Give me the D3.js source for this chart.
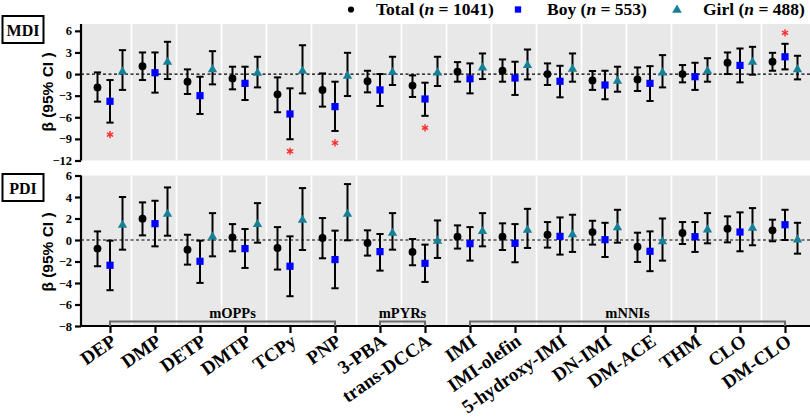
<!DOCTYPE html>
<html><head><meta charset="utf-8">
<script src="https://cdn.jsdelivr.net/npm/d3@7"></script>
<style>
html,body{margin:0;padding:0;background:#fff;}
svg{display:block;}
</style></head>
<body>
<svg id="chart" width="810" height="417"></svg>
<script>
const categories = ["DEP","DMP","DETP","DMTP","TCPy","PNP","3-PBA","trans-DCCA","IMI","IMI-olefin","5-hydroxy-IMI","DN-IMI","DM-ACE","THM","CLO","DM-CLO"];
const seriesNames = ["Total","Boy","Girl"];
const seriesLabels = ["Total (", "Boy (", "Girl ("];
const seriesN = ["1041","553","488"];

// MDI
const mdiTotal   = [-1.85,1.1,-1.06,-0.6,-2.81,-2.2,-1.0,-1.6,0.32,0.46,0,-0.88,-0.74,0,1.57,1.71];
const mdiTotalLo = [-3.83,-0.83,-2.77,-2.12,-5.3,-4.52,-2.54,-3.18,-1.06,-1.06,-1.52,-2.2,-2.35,-1.15,0.0,0.46];
const mdiTotalHi = [0.23,3.0,0.65,1.02,-0.46,0.09,0.46,-0.18,1.66,2.03,1.48,0.42,0.92,1.25,3.0,2.95];
const mdiBoy     = [-3.78,0.18,-3.0,-1.29,-5.54,-4.52,-2.2,-3.46,-0.65,-0.55,-1.0,-1.52,-1.29,-0.37,1.2,2.4];
const mdiBoyLo   = [-6.74,-2.58,-5.54,-3.6,-9.05,-7.9,-4.43,-5.8,-2.68,-2.9,-3.23,-3.5,-3.74,-2.2,-1.15,0.65];
const mdiBoyHi   = [-0.83,3.0,-0.37,1.02,-1.98,-1.06,0,-1.2,1.48,1.71,1.15,0.46,1.1,1.57,3.55,4.2];
const mdiGirl    = [0.46,1.8,0.78,0.28,0.55,-0.14,0.37,0.32,1.02,1.34,0.83,-0.83,0.32,0.55,1.8,0.78];
const mdiGirlLo  = [-2.2,-0.69,-1.43,-1.85,-2.68,-3.05,-1.52,-1.66,-0.69,-0.74,-1.06,-2.45,-1.85,-1.06,-0.09,-0.74];
const mdiGirlHi  = [3.32,4.48,3.18,2.4,4.0,2.95,2.4,2.4,2.86,3.41,2.86,1.02,2.63,2.2,3.78,2.54];
const mdiBoySig  = [1,0,0,0,1,1,0,1,0,0,0,0,0,0,0,1];

// PDI
const pdiTotal   = [-0.8,1.98,-0.9,0.25,-0.74,0.19,-0.28,-1.11,0.31,0.31,0.49,0.74,-0.62,0.65,1.05,0.9];
const pdiTotalLo = [-2.44,0.43,-2.29,-1.05,-2.75,-1.7,-1.45,-2.35,-0.8,-0.93,-0.71,-0.43,-2.04,-0.37,-0.22,-0.12];
const pdiTotalHi = [0.8,3.5,0.49,1.48,1.2,2.04,0.9,0.09,1.36,1.55,1.67,1.79,0.68,1.67,2.2,1.89];
const pdiBoy     = [-2.35,1.52,-1.98,-0.8,-2.44,-1.82,-1.08,-2.17,-0.34,-0.31,0.34,0.03,-1.05,0.31,0.74,1.42];
const pdiBoyLo   = [-4.67,-0.59,-3.99,-2.6,-5.23,-4.49,-2.85,-3.9,-1.92,-2.07,-1.36,-1.58,-2.9,-1.11,-1.05,0.0];
const pdiBoyHi   = [-0.06,3.65,-0.06,1.02,0.34,0.87,0.56,-0.43,1.2,1.48,2.1,1.6,0.8,1.67,2.57,2.81];
const pdiGirl    = [1.48,2.5,0.4,1.55,1.95,2.5,0.74,0,0.9,1.02,0.59,1.24,-0.06,1.05,1.2,0.12];
const pdiGirlLo  = [-0.9,0.4,-1.52,-0.25,-0.93,-0.03,-0.9,-1.67,-0.59,-0.74,-1.11,-0.25,-1.92,-0.31,-0.49,-1.27];
const pdiGirlHi  = [4.0,4.89,2.5,3.43,4.83,5.2,2.5,1.82,2.5,2.9,2.35,2.81,2.0,2.5,2.97,1.6];
const pdiBoySig  = [0,0,0,0,0,0,0,0,0,0,0,0,0,0,0,0];

const mdiTicks = [-12,-9,-6,-3,0,3,6];
const pdiTicks = [-8,-6,-4,-2,0,2,4,6];
const groups = [
  {name:"mOPPs", from:"DEP", to:"PNP"},
  {name:"mPYRs", from:"3-PBA", to:"trans-DCCA"},
  {name:"mNNIs", from:"IMI", to:"DM-CLO"}
];

const SERIF = "'Liberation Serif','Times New Roman',serif";
const SANS = "'Liberation Sans',Arial,sans-serif";
const colors = {Total:"#000000", Boy:"#0000ff", Girl:"#158196"};
const shapes = {Total:d3.symbolCircle, Boy:d3.symbolSquare, Girl:d3.symbolTriangle};
const sizes = {Total:48, Boy:52, Girl:38};
const offsets = {Total:-12.5, Boy:0, Girl:12.5};

const svg = d3.select("#chart");
const x = d3.scalePoint().domain(categories).range([110, 785]);
const plotLeft = 81, plotRight = 810;

function panel(cfg){
  const y = d3.scaleLinear().domain(cfg.domain).range(cfg.range);
  const g = svg.append("g");
  g.append("rect").attr("x", plotLeft+1).attr("y", cfg.range[1])
    .attr("width", plotRight-plotLeft-1).attr("height", cfg.range[0]-cfg.range[1])
    .attr("fill", "#e8e8e8");
  const seps = categories.slice(1).map((c,i)=> (x(categories[i]) + x(c))/2 - 1);
  g.selectAll("line.sep").data(seps).enter().append("line")
    .attr("x1", d=>d).attr("x2", d=>d).attr("y1", cfg.range[1]).attr("y2", cfg.range[0])
    .attr("stroke", "#fff").attr("stroke-width", 1.6);
  g.append("line").attr("x1", plotLeft).attr("x2", plotRight)
    .attr("y1", y(0)).attr("y2", y(0))
    .attr("stroke", "#000").attr("stroke-width", 1.2).attr("stroke-dasharray", "3,2.5");
  const ax = g.append("g").attr("transform", `translate(${plotLeft},0)`)
    .call(d3.axisLeft(y).tickValues(cfg.ticks).tickSize(6).tickSizeOuter(0).tickFormat(d3.format("d")));
  ax.select(".domain").attr("stroke-width", 2.2).attr("d", `M0,${cfg.range[0]}V${cfg.range[1]}`);
  ax.selectAll(".tick line").attr("stroke-width", 2.2);
  ax.selectAll(".tick text").attr("font-family", SERIF).attr("font-weight", "bold")
    .attr("font-size", 12.5).attr("x", -9).attr("fill", "#000");
  g.append("text").attr("transform", `translate(${cfg.titleX},${cfg.titleY}) rotate(-90)`)
    .attr("text-anchor", "middle").attr("font-family", SANS).attr("font-size", 15.5)
    .attr("font-weight", "bold").text("β (95% CI )");
  g.append("rect").attr("x", 2.5).attr("y", cfg.boxY).attr("width", 41).attr("height", 27)
    .attr("fill", "#fff").attr("stroke", "#000").attr("stroke-width", 2);
  g.append("text").attr("x", 23).attr("y", cfg.boxY + 19.5).attr("text-anchor", "middle")
    .attr("font-family", SERIF).attr("font-weight", "bold").attr("font-size", 16).text(cfg.label);

  cfg.series.forEach(s=>{
    const data = categories.map((c,i)=>({c, est:s.est[i], lo:s.lo[i], hi:s.hi[i], sig:s.sig ? s.sig[i] : 0}));
    const sg = g.append("g");
    const px = d => x(d.c) + offsets[s.name];
    sg.selectAll("line.v").data(data).enter().append("line")
      .attr("x1", px).attr("x2", px).attr("y1", d=>y(d.lo)).attr("y2", d=>y(d.hi))
      .attr("stroke", "#000").attr("stroke-width", 2);
    ["lo","hi"].forEach(k=>{
      sg.selectAll("line.cap"+k).data(data).enter().append("line")
        .attr("x1", d=>px(d)-3.6).attr("x2", d=>px(d)+3.6)
        .attr("y1", d=>y(d[k])).attr("y2", d=>y(d[k]))
        .attr("stroke", "#000").attr("stroke-width", 2);
    });
    sg.selectAll("path.m").data(data).enter().append("path")
      .attr("transform", d=>`translate(${px(d)},${y(d.est) + (s.name==="Girl"?1:0)})`)
      .attr("d", d3.symbol(shapes[s.name], sizes[s.name])())
      .attr("fill", colors[s.name]);
    data.filter(d=>d.sig).forEach(d=>{
      const below = d.est < 0;
      const cy = below ? y(d.lo) + 12 : y(d.hi) - 11;
      const ag = sg.append("g").attr("transform", `translate(${px(d)},${cy})`);
      [0,60,120].forEach(a=>{
        ag.append("line").attr("x1",0).attr("x2",0).attr("y1",-3.6).attr("y2",3.6)
          .attr("transform", `rotate(${a})`).attr("stroke", "#ff2a2a").attr("stroke-width", 1.4);
      });
    });
  });
  return y;
}

panel({
  label:"MDI", domain:[-12, 6.95], range:[160.5, 24], ticks: mdiTicks,
  titleX: 53, titleY: 92, boxY: 16,
  series:[
    {name:"Total", est:mdiTotal, lo:mdiTotalLo, hi:mdiTotalHi},
    {name:"Boy", est:mdiBoy, lo:mdiBoyLo, hi:mdiBoyHi, sig:mdiBoySig},
    {name:"Girl", est:mdiGirl, lo:mdiGirlLo, hi:mdiGirlHi}
  ]
});
panel({
  label:"PDI", domain:[-8, 6], range:[326, 175.5], ticks: pdiTicks,
  titleX: 53, titleY: 252, boxY: 174,
  series:[
    {name:"Total", est:pdiTotal, lo:pdiTotalLo, hi:pdiTotalHi},
    {name:"Boy", est:pdiBoy, lo:pdiBoyLo, hi:pdiBoyHi, sig:pdiBoySig},
    {name:"Girl", est:pdiGirl, lo:pdiGirlLo, hi:pdiGirlHi}
  ]
});

const xAxisY = 326;
const xg = svg.append("g").attr("transform", `translate(0,${xAxisY})`)
  .call(d3.axisBottom(x).tickSize(7).tickSizeOuter(0).tickFormat(""));
xg.select(".domain").attr("stroke-width", 2.2).attr("d", `M${plotLeft},0H${plotRight}`);
xg.selectAll(".tick line").attr("stroke-width", 2.2);
xg.selectAll(".tick").append("text")
  .attr("transform", "translate(7,18) rotate(-35)")
  .attr("text-anchor", "end").attr("fill", "#000")
  .attr("font-family", SERIF).attr("font-weight", "bold").attr("font-size", 19)
  .text(d=>d);

groups.forEach(gr=>{
  const x1 = x(gr.from), x2 = x(gr.to);
  svg.append("path").attr("d", `M${x1},${xAxisY}V${xAxisY-4.5}H${x2}V${xAxisY}`)
    .attr("fill", "none").attr("stroke", "#6b6b6b").attr("stroke-width", 2);
  svg.append("text").attr("x", (x1+x2)/2 + (gr.name==="mOPPs"?10:0)).attr("y", xAxisY-8).attr("text-anchor", "middle")
    .attr("font-family", SERIF).attr("font-weight", "bold").attr("font-size", 14.5).text(gr.name);
});

const legendMarkX = [351, 518, 677];
const legendTextX = [376, 547, 703];
seriesNames.forEach((s,i)=>{
  svg.append("path").attr("transform", `translate(${legendMarkX[i]},${s==="Girl"?10:9.5})`)
    .attr("d", d3.symbol(shapes[s], s==="Total"?30:40)())
    .attr("fill", colors[s]);
  const t = svg.append("text").attr("x", legendTextX[i]).attr("y", 15)
    .attr("font-family", SERIF).attr("font-weight", "bold").attr("font-size", 17.5);
  t.append("tspan").text(seriesLabels[i]);
  t.append("tspan").attr("font-style", "italic").text("n");
  t.append("tspan").text(" = " + seriesN[i] + ")");
});
</script>
</body></html>
